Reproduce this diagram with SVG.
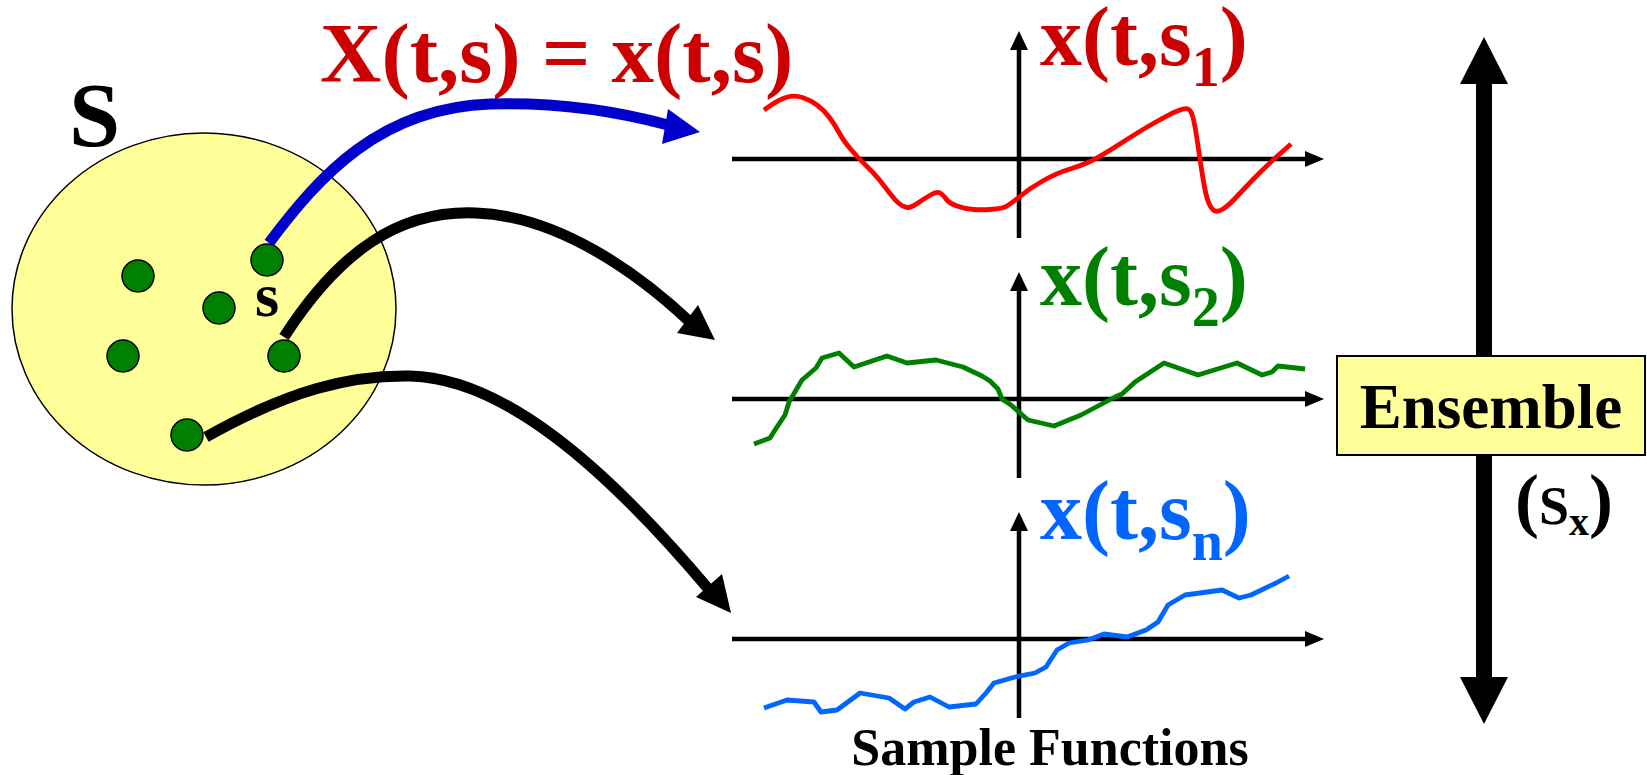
<svg xmlns="http://www.w3.org/2000/svg" width="1647" height="775" viewBox="0 0 1647 775">
<style>
.t{font-family:"Liberation Serif","Times New Roman",serif;font-weight:bold}
.ax{stroke:#000;stroke-width:4.5;fill:none}
.ah{fill:#000}
.dot{fill:#008000;stroke:#000;stroke-width:1.5}
.conn{fill:none;stroke-width:11}
.wave{fill:none;stroke-width:4.8;stroke-linejoin:round;stroke-linecap:butt}
</style>
<rect width="1647" height="775" fill="#fff"/>
<g id="set">
<ellipse cx="204" cy="309" rx="192" ry="176" fill="#FFFF99" stroke="#000" stroke-width="1.5"/>
<text class="t" x="69" y="146" font-size="92">S</text>
</g>
<g id="dots">
<circle class="dot" cx="138" cy="276" r="16"/>
<circle class="dot" cx="219" cy="308" r="16"/>
<circle class="dot" cx="267" cy="260" r="16"/>
<circle class="dot" cx="123" cy="356" r="16"/>
<circle class="dot" cx="284" cy="356" r="16"/>
<circle class="dot" cx="187" cy="435" r="16"/>
<text class="t" x="255" y="316" font-size="62">s</text>
</g>
<g id="title"><text class="t" x="320" y="82" font-size="85" fill="#CC0000">X(t,s) = x(t,s)</text></g>
<g id="connectors">
<path class="conn" stroke="#0000CC" d="M269,243 C320,175 380,108 490,104 C560,102 620,112 668,125"/>
<polygon fill="#0000CC" points="700,132 668,109 662,144"/>
<path class="conn" stroke="#000" d="M284,337 C340,250 400,210 476,213 C560,216 640,275 690,322"/>
<polygon class="ah" points="715,340 698,305 677,333"/>
<path class="conn" stroke="#000" d="M206,437 C290,390 350,375 410,376 C500,378 600,460 711,592"/>
<polygon class="ah" points="731,613 722,574 696,597"/>
</g>
<g id="plot1">
<line class="ax" x1="732" y1="159" x2="1310" y2="159"/>
<polygon class="ah" points="1324,159 1305,151 1305,167"/>
<line class="ax" x1="1019" y1="238" x2="1019" y2="45"/>
<polygon class="ah" points="1019,31 1010,50 1028,50"/>
<path class="wave" stroke="#FF0000" d="M764,110 L772,104.5 Q780,99 787.5,97 Q795,95 802.5,97.5 Q810,100 817,105 Q824,110 829.5,117.5 Q835,125 839,132.5 Q843,140 850.5,149 Q858,158 866,165.5 Q874,173 879.5,180 Q885,187 890,193.5 Q895,200 899,203.5 Q903,207 907,207.5 Q911,208 918,203 Q925,198 931.5,194.5 Q938,191 941,193.5 Q944,196 946.5,199.5 Q949,203 957,206 Q965,209 973.5,209.5 Q982,210 989.5,209.5 Q997,209 1002,208 Q1007,207 1018.5,197.5 Q1030,188 1043.5,180.5 Q1057,173 1068.5,169.5 Q1080,166 1089,162 Q1098,158 1119,144.5 Q1140,131 1155,122.5 Q1170,114 1177.5,111 Q1185,108 1188,109 Q1191,110 1193,117.5 Q1195,125 1197.5,142.5 Q1200,160 1203,178.5 Q1206,197 1209,203.5 Q1212,210 1215,211 Q1218,212 1223,209 Q1228,206 1235.5,198 Q1243,190 1254,178.5 Q1265,167 1278,155.5 L1291,144"/>
<text class="t" x="1040" y="65" font-size="84" fill="#CC0000">x(t,s<tspan font-size="56" dy="21">1</tspan><tspan dy="-21">)</tspan></text>
</g>
<g id="plot2">
<line class="ax" x1="732" y1="399" x2="1310" y2="399"/>
<polygon class="ah" points="1324,399 1305,391 1305,407"/>
<line class="ax" x1="1019" y1="478" x2="1019" y2="286"/>
<polygon class="ah" points="1019,272 1010,291 1028,291"/>
<polyline class="wave" stroke="#008000" points="754,444 770,438 775,430 785,415 789,402 802,380 816,368 822,358 839,353 854,367 887,356 907,363 936,360 963,367 982,376 990,381 998,389 1002,399 1011,405 1028,420 1054,426 1081,415 1115,397 1122,394 1135,382 1164,363 1198,375 1237,363 1262,375 1272,372 1278,366 1305,369"/>
<text class="t" x="1040" y="305" font-size="84" fill="#008000">x(t,s<tspan font-size="56" dy="21">2</tspan><tspan dy="-21">)</tspan></text>
</g>
<g id="plot3">
<line class="ax" x1="732" y1="639" x2="1310" y2="639"/>
<polygon class="ah" points="1324,639 1305,631 1305,647"/>
<line class="ax" x1="1019" y1="718" x2="1019" y2="526"/>
<polygon class="ah" points="1019,512 1010,531 1028,531"/>
<polyline class="wave" stroke="#0066FF" points="764,708 787,700 814,702 821,712 837,710 860,693 889,698 905,709 914,702 930,697 949,707 976,704 986,693 994,683 1015,677 1035,673 1046,667 1057,650 1069,643 1088,640 1104,634 1127,637 1146,630 1158,622 1168,605 1185,595 1222,590 1239,598 1251,595 1276,583 1289,576"/>
<text class="t" x="1040" y="539" font-size="84" fill="#0066FF">x(t,s<tspan font-size="56" dy="21">n</tspan><tspan dy="-21">)</tspan></text>
</g>
<g id="caption"><text class="t" x="1050" y="765" font-size="52" text-anchor="middle">Sample Functions</text></g>
<g id="ensemble">
<rect x="1476" y="80" width="16" height="601" fill="#000"/>
<polygon class="ah" points="1484,37 1460,84 1508,84"/>
<polygon class="ah" points="1484,724 1460,677 1508,677"/>
<rect x="1337" y="356" width="308" height="99" fill="#FFFF99" stroke="#000" stroke-width="2"/>
<text class="t" x="1491" y="428" font-size="63" text-anchor="middle">Ensemble</text>
<text class="t" x="1515" y="524" font-size="72">(<tspan font-size="54">S</tspan><tspan font-size="40" dy="11">x</tspan><tspan dy="-11">)</tspan></text>
</g>
</svg>
